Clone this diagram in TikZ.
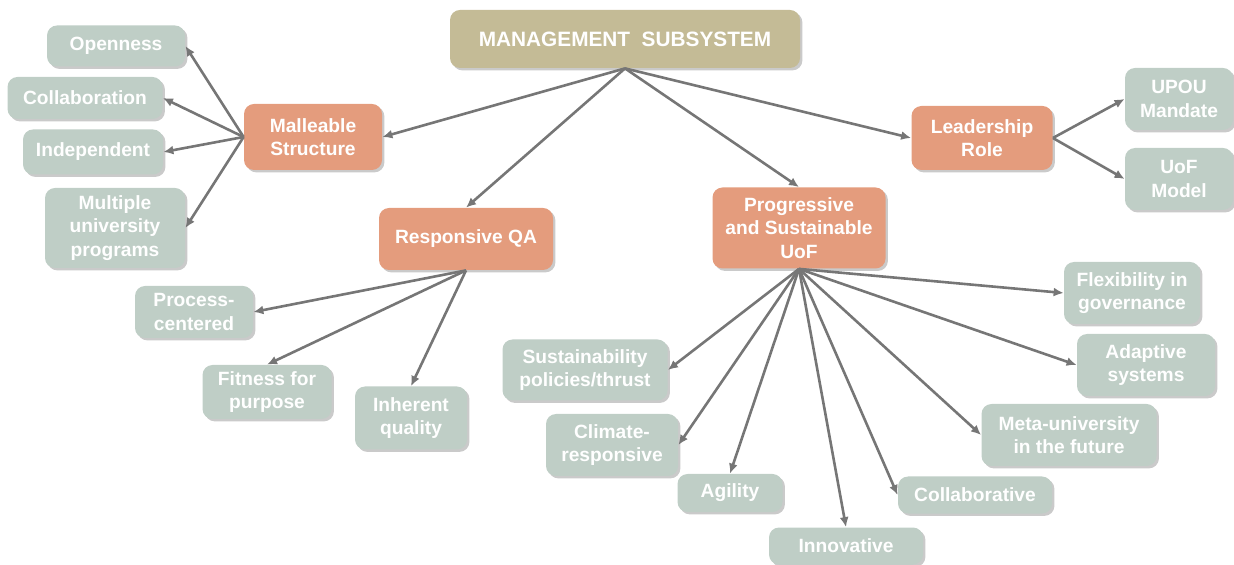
\documentclass[tikz,border=0pt]{standalone}
\usepackage{fontspec}
\setmainfont{Liberation Sans}
\usetikzlibrary{arrows.meta}
\usetikzlibrary{shadows}
\definecolor{tan}{HTML}{C4BB96}
\definecolor{salmon}{HTML}{E49C7D}
\definecolor{sage}{HTML}{BFCEC6}
\definecolor{link}{HTML}{767676}
\tikzset{>={Latex[width=4.5pt,length=5pt]}}
\tikzset{
	box/.style={rounded corners=5pt, text=white, align=center, inner sep=0pt,
		font=\bfseries\fontsize{9.6}{11.6}\selectfont,
		drop shadow={shadow xshift=1.2pt, shadow yshift=-1.2pt, opacity=0.35, fill=black!60}},
	head/.style={box, fill=tan, font=\bfseries\fontsize{10.4}{12}\selectfont},
	branch/.style={box, fill=salmon},
	leaf/.style={box, fill=sage},
	link/.style={draw=link, line width=1.3pt, ->},
}

\begin{document}
\begin{tikzpicture}[x=0.5pt, y=-0.5pt]
	\useasboundingbox (0,0) rectangle (1234,565);

	\node (MS) [head, minimum width=175pt, minimum height=29pt] at (625,39) {MANAGEMENT\ \ SUBSYSTEM};

	% second level
	\node (MAL) [branch, minimum width=69pt, minimum height=33pt] at (313,137) {Malleable\\Structure};
	\node (RQA) [branch, minimum width=87pt, minimum height=31pt] at (466,239) {Responsive QA};
	\node (PSU) [branch, minimum width=86.5pt, minimum height=40.5pt] at (799,228) {Progressive\\and Sustainable\\UoF};
	\node (LEAD) [branch, minimum width=70.5pt, minimum height=32pt] at (982,138) {Leadership\\Role};

	% malleable structure
	\node (OPEN) [leaf, minimum width=69pt, minimum height=20.5pt] at (116,46) {Openness};
	\node (COLL) [leaf, minimum width=77.5pt, minimum height=21pt] at (85,98) {Collaboration};
	\node (IND) [leaf, minimum width=70pt, minimum height=22.5pt] at (93,152) {Independent};
	\node (MUP) [leaf, minimum width=70pt, minimum height=40pt] at (115,228) {Multiple\\university\\programs};

	% responsive QA
	\node (PROC) [leaf, minimum width=59pt, minimum height=26pt] at (194,312) {Process-\\centered};
	\node (FIT) [leaf, minimum width=64.5pt, minimum height=27pt] at (267,392) {Fitness for\\purpose};
	\node (INH) [leaf, minimum width=56pt, minimum height=31.5pt] at (411,418) {Inherent\\quality};

	% progressive and sustainable UoF
	\node (SUS) [leaf, minimum width=82.5pt, minimum height=30.5pt] at (585,370) {Sustainability\\policies/thrust};
	\node (CLIM) [leaf, minimum width=66pt, minimum height=31pt] at (612,445) {Climate-\\responsive};
	\node (AGI) [leaf, minimum width=52.5pt, minimum height=19pt] at (730,493) {Agility};
	\node (INNO) [leaf, minimum width=77pt, minimum height=18.5pt] at (846,546) {Innovative};
	\node (COLV) [leaf, minimum width=77pt, minimum height=18.5pt] at (975,495) {Collaborative};
	\node (META) [leaf, minimum width=87.5pt, minimum height=31pt] at (1069,435) {Meta-university\\in the future};
	\node (ADAP) [leaf, minimum width=69pt, minimum height=31pt] at (1146,365) {Adaptive\\systems};
	\node (FLEX) [leaf, minimum width=68pt, minimum height=31pt] at (1132,293) {Flexibility in\\governance};

	% leadership role
	\node (UPOU) [leaf, minimum width=54pt, minimum height=31pt] at (1179,99) {UPOU\\Mandate};
	\node (UOF) [leaf, minimum width=54pt, minimum height=31pt] at (1179,179) {UoF\\Model};

	\path [link] (MS.south) -- (MAL.east);
	\path [link] (MS.south) -- (RQA.north);
	\path [link] (MS.south) -- (PSU.north);
	\path [link] (MS.south) -- (LEAD.west);

	\path [link] (MAL.west) -- (OPEN.east);
	\path [link] (MAL.west) -- (COLL.east);
	\path [link] (MAL.west) -- (IND.east);
	\path [link] (MAL.west) -- (MUP.east);

	\path [link] (RQA.south) -- (PROC.east);
	\path [link] (RQA.south) -- (FIT.north);
	\path [link] (RQA.south) -- (INH.north);

	\path [link] (PSU.south) -- (SUS.east);
	\path [link] (PSU.south) -- (CLIM.east);
	\path [link] (PSU.south) -- (AGI.north);
	\path [link] (PSU.south) -- (INNO.north);
	\path [link] (PSU.south) -- (COLV.west);
	\path [link] (PSU.south) -- (META.west);
	\path [link] (PSU.south) -- (ADAP.west);
	\path [link] (PSU.south) -- (FLEX.west);

	\path [link] (LEAD.east) -- (UPOU.west);
	\path [link] (LEAD.east) -- (UOF.west);
\end{tikzpicture}
\end{document}
